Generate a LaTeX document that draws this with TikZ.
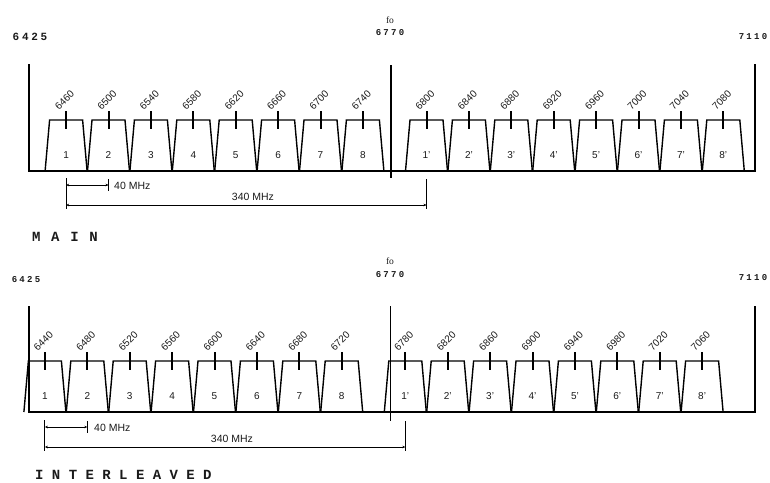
\documentclass[tikz,border=0pt]{standalone}
\usepackage{fontspec}
\setmainfont{Liberation Sans}
\newfontfamily\rimfont[LetterSpace=25]{Liberation Mono}
\newfontfamily\capsfont[LetterSpace=60]{Liberation Mono}
\newfontfamily\capswide[LetterSpace=76]{Liberation Mono}
\newfontfamily\fofont{Liberation Serif}
\usetikzlibrary{arrows.meta}
\definecolor{spink}{HTML}{000000}
\definecolor{sptext}{HTML}{1A1A1A}
\tikzset{
  axisl/.style={line width=2.2pt,draw=spink},
  flt/.style={line width=1.4pt,draw=spink,line join=miter},
  ctick/.style={line width=2pt,draw=spink},
  chnum/.style={font=\fontsize{10}{12}\selectfont,inner sep=0pt,text=sptext},
  freq/.style={font=\fontsize{10}{12}\selectfont,inner sep=0pt,rotate=45,text=sptext},
  rimlab/.style={font=\rimfont\bfseries\fontsize{9}{10}\selectfont,inner sep=0pt,text=sptext},
  rimbig/.style={font=\rimfont\bfseries\fontsize{11}{12}\selectfont,inner sep=0pt,text=sptext},
  folab/.style={font=\fofont\fontsize{9.5}{10}\selectfont,inner sep=0pt,text=sptext},
  capslab/.style={font=\capsfont\bfseries\fontsize{14}{15}\selectfont,inner sep=0pt,anchor=west,text=sptext},
  capsmain/.style={capslab,font=\capswide\bfseries\fontsize{14}{15}\selectfont},
  dimtick/.style={line width=0.9pt,draw=spink},
  dimarr/.style={{Stealth[length=3pt,width=2.6pt]}-{Stealth[length=3pt,width=2.6pt]},line width=0.8pt,draw=spink},
  dimlab/.style={font=\fontsize{10.5}{12}\selectfont,inner sep=0pt,text=sptext},
}
% one channel filter: name, baseline y, channel number, centre frequency
\newcommand{\chan}[4]{%
  \pgfmathsetmacro\chx{29+1.06*(#4-6425)}
  \draw[flt] ({\chx-21},#2) -- ({\chx-16.5},{#2-51}) -- ({\chx+16.5},{#2-51}) -- ({\chx+21},#2);
  \draw[ctick] (\chx,{#2-60}) -- (\chx,{#2-42});
  \node[chnum] (#1n) at (\chx,{#2-16}) {#3};
  \node[freq] (#1f) at ({\chx-1.5},{#2-71}) {#4};
}

\begin{document}
\begin{tikzpicture}[x=1pt,y=-1pt]
  \useasboundingbox (0,0) rectangle (770,482);

  % ---- main plan ----
  \node[rimbig] (m6425) at (30,37) {6425};
  \node[folab] (mfo) at (390,20) {fo};
  \node[rimlab] (m6770) at (390,33) {6770};
  \node[rimlab] (m7110) at (753,37) {7110};
  \draw[axisl] (29,64) |- (755,171) -- (755,64);
  \draw[line width=2.6pt] (391,65) -- (391,178);
  \chan{m1}{171}{1}{6460}
  \chan{m2}{171}{2}{6500}
  \chan{m3}{171}{3}{6540}
  \chan{m4}{171}{4}{6580}
  \chan{m5}{171}{5}{6620}
  \chan{m6}{171}{6}{6660}
  \chan{m7}{171}{7}{6700}
  \chan{m8}{171}{8}{6740}
  \chan{m1p}{171}{1'}{6800}
  \chan{m2p}{171}{2'}{6840}
  \chan{m3p}{171}{3'}{6880}
  \chan{m4p}{171}{4'}{6920}
  \chan{m5p}{171}{5'}{6960}
  \chan{m6p}{171}{6'}{7000}
  \chan{m7p}{171}{7'}{7040}
  \chan{m8p}{171}{8'}{7080}

  % ---- main spacing ----
  \coordinate (m40a) at (66.1,185);
  \coordinate (m40b) at (108.5,185);
  \coordinate (m340a) at (66.1,205);
  \coordinate (m340b) at (426.5,205);
  \draw[dimtick] (66.1,178) -- (66.1,209);
  \draw[dimtick] (108.5,179) -- (108.5,191);
  \draw[dimtick] (426.5,179) -- (426.5,209);
  \draw[dimarr] (m40a) -- (m40b);
  \draw[dimarr] (m340a) -- (m340b);
  \node[dimlab,anchor=west] (m40l) at (114,186) {40 MHz};
  \node[dimlab] (m340l) at (253,197) {340 MHz};
  \node[capsmain] (mtitle) at (32,237) {MAIN};

  % ---- interleaved plan ----
  \node[rimlab] (i6425) at (26,280) {6425};
  \node[folab] (ifo) at (390,261) {fo};
  \node[rimlab] (i6770) at (390,275) {6770};
  \node[rimlab] (i7110) at (753,278) {7110};
  \draw[axisl] (29,306) |- (755,412) -- (755,306);
  \draw[line width=1pt] (390,306) -- (390,421);
  \chan{i1}{412}{1}{6440}
  \chan{i2}{412}{2}{6480}
  \chan{i3}{412}{3}{6520}
  \chan{i4}{412}{4}{6560}
  \chan{i5}{412}{5}{6600}
  \chan{i6}{412}{6}{6640}
  \chan{i7}{412}{7}{6680}
  \chan{i8}{412}{8}{6720}
  \chan{i1p}{412}{1'}{6780}
  \chan{i2p}{412}{2'}{6820}
  \chan{i3p}{412}{3'}{6860}
  \chan{i4p}{412}{4'}{6900}
  \chan{i5p}{412}{5'}{6940}
  \chan{i6p}{412}{6'}{6980}
  \chan{i7p}{412}{7'}{7020}
  \chan{i8p}{412}{8'}{7060}

  % ---- interleaved spacing ----
  \coordinate (i40a) at (44.9,427);
  \coordinate (i40b) at (87.3,427);
  \coordinate (i340a) at (44.9,447);
  \coordinate (i340b) at (405.3,447);
  \draw[dimtick] (44.9,420) -- (44.9,451);
  \draw[dimtick] (87.3,421) -- (87.3,433);
  \draw[dimtick] (405.3,421) -- (405.3,451);
  \draw[dimarr] (i40a) -- (i40b);
  \draw[dimarr] (i340a) -- (i340b);
  \node[dimlab,anchor=west] (i40l) at (94,428) {40 MHz};
  \node[dimlab] (i340l) at (232,439) {340 MHz};
  \node[capslab] (ititle) at (35,475) {INTERLEAVED};
\end{tikzpicture}
\end{document}
